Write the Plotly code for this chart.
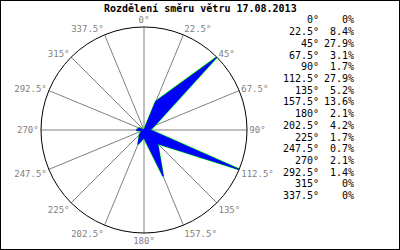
import plotly.graph_objects as go

title = "Rozdělení směru větru 17.08.2013"
directions = [0, 22.5, 45, 67.5, 90, 112.5, 135, 157.5, 180, 202.5, 225, 247.5, 270, 292.5, 315, 337.5]
dir_labels = ["0°", "22.5°", "45°", "67.5°", "90°", "112.5°", "135°", "157.5°",
              "180°", "202.5°", "225°", "247.5°", "270°", "292.5°", "315°", "337.5°"]
percents = [0, 8.4, 27.9, 3.1, 1.7, 27.9, 5.2, 13.6, 2.1, 4.2, 1.7, 0.7, 2.1, 1.4, 0, 0]
pct_labels = ["0%", "8.4%", "27.9%", "3.1%", "1.7%", "27.9%", "5.2%", "13.6%",
              "2.1%", "4.2%", "1.7%", "0.7%", "2.1%", "1.4%", "0%", "0%"]

MONO = "DejaVu Sans Mono"
W, H = 400, 250

fig = go.Figure()
r_closed = percents + [percents[0]]
t_closed = directions + [directions[0]]
fig.add_trace(go.Scatterpolar(r=r_closed, theta=t_closed, mode="lines",
                              line=dict(color="#00ff00", width=2), hoverinfo="skip"))
fig.add_trace(go.Scatterpolar(r=r_closed, theta=t_closed, mode="lines", fill="toself",
                              fillcolor="#0000ff", line=dict(color="#0000ff", width=1),
                              hoverinfo="skip"))

fig.update_layout(
    width=W, height=H,
    margin=dict(l=0, r=0, t=0, b=0),
    paper_bgcolor="white", plot_bgcolor="white",
    showlegend=False,
    polar=dict(
        domain=dict(x=[41 / W, 247 / W], y=[17 / H, 223 / H]),
        bgcolor="white",
        radialaxis=dict(visible=False, range=[0, 28]),
        angularaxis=dict(
            rotation=90, direction="clockwise",
            tickmode="array", tickvals=directions, ticktext=dir_labels,
            showgrid=True, gridcolor="#808080", gridwidth=1,
            showline=True, linecolor="black", linewidth=1,
            ticks="", tickfont=dict(family=MONO, size=9, color="#808080"),
        ),
    ),
)

annotations = [dict(text="<b>" + title + "</b>", x=200 / W, y=1 - 8 / H, xref="paper", yref="paper",
                    xanchor="center", yanchor="middle", showarrow=False,
                    font=dict(family=MONO, size=10, color="black"))]
for i, (dl, pl) in enumerate(zip(dir_labels, pct_labels)):
    ypix = 20 + i * 11.7
    annotations.append(dict(text=dl, x=321 / W, y=1 - ypix / H, xref="paper", yref="paper",
                            xanchor="right", yanchor="middle", showarrow=False,
                            font=dict(family=MONO, size=10, color="black")))
    annotations.append(dict(text=pl, x=356 / W, y=1 - ypix / H, xref="paper", yref="paper",
                            xanchor="right", yanchor="middle", showarrow=False,
                            font=dict(family=MONO, size=10, color="black")))
fig.update_layout(annotations=annotations)
fig.add_shape(type="rect", xref="paper", yref="paper", x0=0, y0=0, x1=1, y1=1,
              line=dict(color="black", width=2))

fig.write_html("out.html")
